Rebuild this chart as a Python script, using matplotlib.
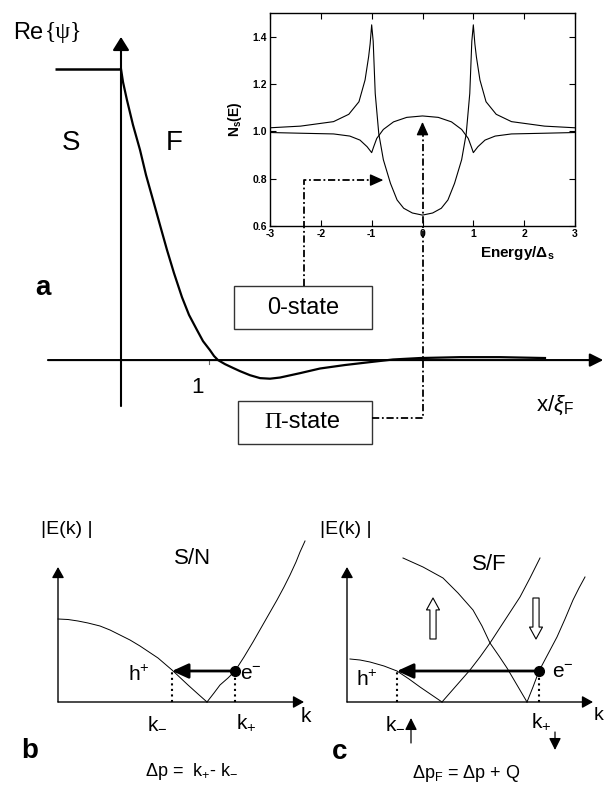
import matplotlib
matplotlib.use('Agg')
import matplotlib.pyplot as plt
from matplotlib.patches import Rectangle

plt.rcParams['font.family'] = ['Liberation Sans', 'DejaVu Sans']
plt.rcParams['mathtext.fontset'] = 'custom'
plt.rcParams['mathtext.rm'] = 'Liberation Sans'
plt.rcParams['mathtext.it'] = 'Liberation Sans:italic'
plt.rcParams['mathtext.bf'] = 'Liberation Sans:bold'
plt.rcParams['axes.unicode_minus'] = False

# --- panel a: Re{psi} across the S/F interface, x in units of xi_F
x_s = [-0.75, 0.0]
psi_s = [1.0, 1.0]
x_f = [0.0, 0.023, 0.068, 0.136, 0.216, 0.284, 0.364, 0.443, 0.523, 0.602, 0.693,
       0.773, 0.864, 0.932, 1.011, 1.057, 1.102, 1.182, 1.273, 1.352, 1.466, 1.58,
       1.693, 1.807, 2.034, 2.261, 2.545, 2.83, 3.091, 3.398, 3.852, 4.307, 4.818]
psi_f = [1.0, 0.955, 0.893, 0.808, 0.722, 0.636, 0.55, 0.464, 0.378, 0.299, 0.216,
         0.155, 0.103, 0.065, 0.034, 0.014, 0.0, -0.014, -0.027, -0.038, -0.052, -0.062,
         -0.064, -0.06, -0.045, -0.029, -0.017, -0.007, 0.002, 0.007, 0.01, 0.01, 0.007]

# --- inset: density of states N_s(E)
E_zero = [-3.0, -2.4, -1.75, -1.45, -1.25, -1.13, -1.06, -1.03, -1.0, -0.97, -0.93, -0.86,
          -0.77, -0.63, -0.5, -0.37, -0.2, 0.0, 0.2, 0.37, 0.5, 0.63, 0.77, 0.86, 0.93,
          0.97, 1.0, 1.03, 1.06, 1.13, 1.25, 1.45, 1.75, 2.4, 3.0]
N_zero = [1.015, 1.022, 1.041, 1.072, 1.125, 1.217, 1.315, 1.37, 1.45, 1.38, 1.16, 0.99,
          0.88, 0.78, 0.71, 0.675, 0.655, 0.646, 0.655, 0.675, 0.71, 0.78, 0.88, 0.99, 1.16,
          1.38, 1.45, 1.37, 1.315, 1.217, 1.125, 1.072, 1.041, 1.022, 1.015]
E_pi = [-3.0, -2.4, -1.75, -1.43, -1.23, -1.09, -1.0, -0.96, -0.9, -0.77, -0.57, -0.31, 0.0,
        0.31, 0.57, 0.77, 0.9, 0.96, 1.0, 1.09, 1.23, 1.43, 1.75, 2.4, 3.0]
N_pi = [0.995, 0.992, 0.989, 0.98, 0.963, 0.935, 0.91, 0.935, 0.97, 1.008, 1.04, 1.059, 1.065,
        1.059, 1.04, 1.008, 0.97, 0.935, 0.91, 0.935, 0.963, 0.98, 0.989, 0.992, 0.995]
dos_xticks = [-3, -2, -1, 0, 1, 2, 3]
dos_yticks = [0.6, 0.8, 1.0, 1.2, 1.4]

# --- panel b: S/N spectrum |E(k)|
kb_hole = [0.0, 0.1, 0.2, 0.3, 0.42, 0.52, 0.62, 0.72, 0.82, 0.91, 1.0, 1.07, 1.14,
           1.22, 1.3, 1.4, 1.49]
Eb_hole = [0.83, 0.825, 0.81, 0.79, 0.76, 0.72, 0.67, 0.62, 0.56, 0.5, 0.44, 0.38, 0.32,
           0.245, 0.17, 0.08, 0.0]
kb_el = [1.49, 1.56, 1.62, 1.7, 1.77, 1.86, 1.95, 2.07, 2.19, 2.26, 2.32, 2.38, 2.42, 2.47]
Eb_el = [0.0, 0.09, 0.17, 0.24, 0.31, 0.45, 0.6, 0.81, 1.02, 1.15, 1.27, 1.4, 1.5, 1.61]
kb_minus, kb_plus, Eb_andreev = 1.14, 1.77, 0.31

# --- panel c: S/F spectrum, exchange-split bands
kc_hole = [0.03, 0.13, 0.23, 0.37, 0.5, 0.62, 0.73, 0.84, 0.95]
Ec_hole = [0.43, 0.42, 0.4, 0.36, 0.31, 0.23, 0.15, 0.075, 0.0]
kc_up = [0.95, 1.09, 1.23, 1.33, 1.43, 1.58, 1.73, 1.83, 1.93]
Ec_up = [0.0, 0.16, 0.32, 0.45, 0.59, 0.82, 1.05, 1.24, 1.44]
kc_down = [0.56, 0.76, 0.96, 1.11, 1.26, 1.35, 1.43, 1.52, 1.6, 1.7, 1.8]
Ec_down = [1.44, 1.35, 1.24, 1.09, 0.92, 0.76, 0.59, 0.46, 0.34, 0.17, 0.0]
kc_el = [1.8, 1.86, 1.92, 2.01, 2.1, 2.18, 2.26, 2.32, 2.38]
Ec_el = [0.0, 0.15, 0.31, 0.48, 0.65, 0.83, 1.02, 1.14, 1.25]
kc_minus, kc_plus, Ec_andreev = 0.50, 1.92, 0.31

fig = plt.figure(figsize=(6.05, 7.89), dpi=100)

dash = (0, (4, 1.5, 1, 1.5))

# ================= panel a =================
ax = fig.add_axes([0, 309 / 789, 1, 480 / 789])
ax.set_xlim(-1.375, 5.5)
ax.set_ylim(-0.412, 1.237)
ax.axis('off')

ax.annotate('', xy=(5.48, 0), xytext=(-0.83, 0),
            arrowprops=dict(arrowstyle='-|>,head_length=0.4,head_width=0.2',
                            lw=1.5, color='k', mutation_scale=20, shrinkA=0, shrinkB=0))
ax.annotate('', xy=(0, 1.11), xytext=(0, -0.158),
            arrowprops=dict(arrowstyle='-|>,head_length=0.4,head_width=0.25',
                            lw=1.5, color='k', mutation_scale=20, shrinkA=0, shrinkB=0))
ax.plot([1, 1], [0, -0.015], color='0.4', lw=0.8)
ax.plot(x_s, psi_s, color='k', lw=1.8, solid_capstyle='butt')
ax.plot(x_f, psi_f, color='k', lw=1.6)

ax.text(-1.227, 1.124, 'Re', fontsize=17, va='center', ha='left')
ax.text(-0.865, 1.124, '{ψ}', fontsize=17, va='center', ha='left', family='Liberation Serif')
ax.text(-0.568, 0.746, 'S', fontsize=20, ha='center', va='center')
ax.text(0.602, 0.746, 'F', fontsize=20, ha='center', va='center')
ax.text(-0.886, 0.247, 'a', fontsize=20, fontweight='bold', ha='center', va='center')
ax.text(0.864, -0.093, '1', fontsize=16, ha='center', va='center')
ax.text(4.93, -0.155, r'x/$\xi_{\mathrm{F}}$', fontsize=16, ha='center', va='center')

ax.add_patch(Rectangle((1.284, 0.107), 1.568, 0.147, fc='white', ec='#333333', lw=1))
ax.text(2.068, 0.179, '0-state', fontsize=17, ha='center', va='center')
ax.add_patch(Rectangle((1.33, -0.289), 1.522, 0.148, fc='white', ec='#333333', lw=1))
ax.text(1.818, -0.213, 'Π', fontsize=17, ha='right', va='center', family='Liberation Serif')
ax.text(1.818, -0.213, '-state', fontsize=17, ha='left', va='center')

# ================= inset =================
ins = fig.add_axes([270 / 605, (789 - 226) / 789, 305 / 605, 213 / 789])
ins.patch.set_visible(False)
ins.plot(E_zero, N_zero, color='k', lw=0.8)
ins.plot(E_pi, N_pi, color='k', lw=0.8)
ins.set_xlim(-3, 3)
ins.set_ylim(0.6, 1.5)
ins.set_xticks(dos_xticks)
ins.set_xticklabels(['%d' % t for t in dos_xticks])
ins.set_yticks(dos_yticks)
ins.set_yticklabels(['%.1f' % t for t in dos_yticks])
ins.tick_params(direction='in', length=4, width=0.8, top=True, right=True,
                labelsize=7.5, pad=2)
for lab in ins.get_xticklabels() + ins.get_yticklabels():
    lab.set_fontweight('bold')
for sp in ins.spines.values():
    sp.set_linewidth(1.0)
ins.set_ylabel(r'$\mathbf{N_s(E)}$', fontsize=10, labelpad=6)
ins.text(0.81, -0.125, r'Energy/$\mathbf{\Delta_s}$', transform=ins.transAxes,
         fontsize=11, fontweight='bold', ha='center', va='center')

# connectors between the boxes and the inset
to_a = ax.transData.inverted()
tip0 = to_a.transform(ins.transData.transform((-0.77, 0.794)))
tip1 = to_a.transform(ins.transData.transform((0.0, 1.04)))
head = dict(arrowstyle='-|>,head_length=0.4,head_width=0.18', lw=1.0, color='k',
            mutation_scale=20, shrinkA=0, shrinkB=0)
ax.plot([2.08, 2.08, tip0[0] - 0.1], [0.254, tip0[1], tip0[1]], color='k', lw=1.3,
        linestyle=dash)
ax.annotate('', xy=tip0, xytext=(tip0[0] - 0.13, tip0[1]), arrowprops=head)
ax.plot([2.852, tip1[0], tip1[0]], [-0.199, -0.199, tip1[1] - 0.03], color='k', lw=1.3,
        linestyle=dash)
ax.annotate('', xy=tip1, xytext=(tip1[0], tip1[1] - 0.04), arrowprops=head)

# ================= panels b and c =================
axis_arrow = dict(arrowstyle='-|>,head_length=0.5,head_width=0.28', lw=1.0,
                  color='k', mutation_scale=13, shrinkA=0, shrinkB=0)
hole_arrow = dict(arrowstyle='-|>,head_length=0.55,head_width=0.25', lw=2.0,
                  color='k', mutation_scale=18, shrinkA=0, shrinkB=0)

axb = fig.add_axes([0, 0, 302 / 605, 309 / 789])
axb.set_xlim(-0.58, 2.44)
axb.set_ylim(-0.87, 2.22)
axb.axis('off')
axb.annotate('', xy=(2.46, 0), xytext=(0, 0), arrowprops=axis_arrow, annotation_clip=False)
axb.annotate('', xy=(0, 1.35), xytext=(0, 0), arrowprops=axis_arrow)
axb.plot(kb_hole, Eb_hole, color='k', lw=0.7)
axb.plot(kb_el, Eb_el, color='k', lw=0.7, clip_on=False)
axb.plot([kb_minus, kb_minus], [0, Eb_andreev], 'k:', lw=1.5)
axb.plot([kb_plus, kb_plus], [0, Eb_andreev], 'k:', lw=1.5)
axb.annotate('', xy=(kb_minus, Eb_andreev), xytext=(kb_plus, Eb_andreev), arrowprops=hole_arrow)
axb.plot([kb_plus], [Eb_andreev], 'ko', ms=7)
axb.text(0.09, 1.72, '|E(k) |', fontsize=14, ha='center', va='center')
axb.text(1.35, 1.44, 'S/N', fontsize=16, ha='center', va='center')
axb.text(0.81, 0.27, r'h$^{+}$', fontsize=15, ha='center', va='center')
axb.text(1.82, 0.28, r'e$^{-}$', fontsize=15, ha='left', va='center')
axb.text(kb_minus - 0.15, -0.21, r'k$_{-}$', fontsize=15, ha='center', va='center')
axb.text(kb_plus + 0.11, -0.21, r'k$_{+}$', fontsize=15, ha='center', va='center')
axb.text(-0.28, -0.49, 'b', fontsize=20, fontweight='bold', ha='center', va='center')
axb.text(1.34, -0.70, r'Δp =  k$_{+}$- k$_{-}$', fontsize=13, ha='center', va='center')
axb.text(2.48, -0.14, 'k', fontsize=15, ha='center', va='center', clip_on=False)

axc = fig.add_axes([302 / 605, 0, 303 / 605, 309 / 789])
axc.set_xlim(-0.45, 2.58)
axc.set_ylim(-0.87, 2.22)
axc.axis('off')
axc.annotate('', xy=(2.46, 0), xytext=(0, 0), arrowprops=axis_arrow)
axc.annotate('', xy=(0, 1.35), xytext=(0, 0), arrowprops=axis_arrow)
axc.plot(kc_hole, Ec_hole, color='k', lw=0.7)
axc.plot(kc_up, Ec_up, color='k', lw=0.7)
axc.plot(kc_down, Ec_down, color='k', lw=0.7)
axc.plot(kc_el, Ec_el, color='k', lw=0.7)
axc.plot([kc_minus, kc_minus], [0, Ec_andreev], 'k:', lw=1.5)
axc.plot([kc_plus, kc_plus], [0, Ec_andreev], 'k:', lw=1.5)
axc.annotate('', xy=(kc_minus, Ec_andreev), xytext=(kc_plus, Ec_andreev), arrowprops=hole_arrow)
axc.plot([kc_plus], [Ec_andreev], 'ko', ms=7)

hollow = dict(arrowstyle='simple,head_length=0.33,head_width=0.36,tail_width=0.17',
              fc='white', ec='k', lw=0.8, mutation_scale=26, shrinkA=0, shrinkB=0)
axc.annotate('', xy=(0.86, 1.04), xytext=(0.86, 0.63), arrowprops=hollow)
axc.annotate('', xy=(1.89, 0.63), xytext=(1.89, 1.04), arrowprops=hollow)

spin_arrow = dict(arrowstyle='-|>,head_length=0.6,head_width=0.3', lw=0.9,
                  color='k', mutation_scale=12, shrinkA=0, shrinkB=0)
axc.annotate('', xy=(0.64, -0.16), xytext=(0.64, -0.41), arrowprops=spin_arrow)
axc.annotate('', xy=(2.08, -0.48), xytext=(2.08, -0.30), arrowprops=spin_arrow)

axc.text(-0.01, 1.72, '|E(k) |', fontsize=14, ha='center', va='center')
axc.text(1.42, 1.37, 'S/F', fontsize=16, ha='center', va='center')
axc.text(0.20, 0.22, r'h$^{+}$', fontsize=15, ha='center', va='center')
axc.text(2.16, 0.29, r'e$^{-}$', fontsize=15, ha='center', va='center')
axc.text(0.48, -0.20, r'k$_{-}$', fontsize=15, ha='center', va='center')
axc.text(1.94, -0.20, r'k$_{+}$', fontsize=15, ha='center', va='center')
axc.text(2.47, -0.14, 'k', fontsize=14, ha='left', va='center', clip_on=False)
axc.text(-0.07, -0.50, 'c', fontsize=20, fontweight='bold', ha='center', va='center')
axc.text(1.19, -0.71, r'Δp$_{\mathrm{F}}$ = Δp + Q', fontsize=13, ha='center', va='center')

fig.savefig('out.png', dpi=100)
